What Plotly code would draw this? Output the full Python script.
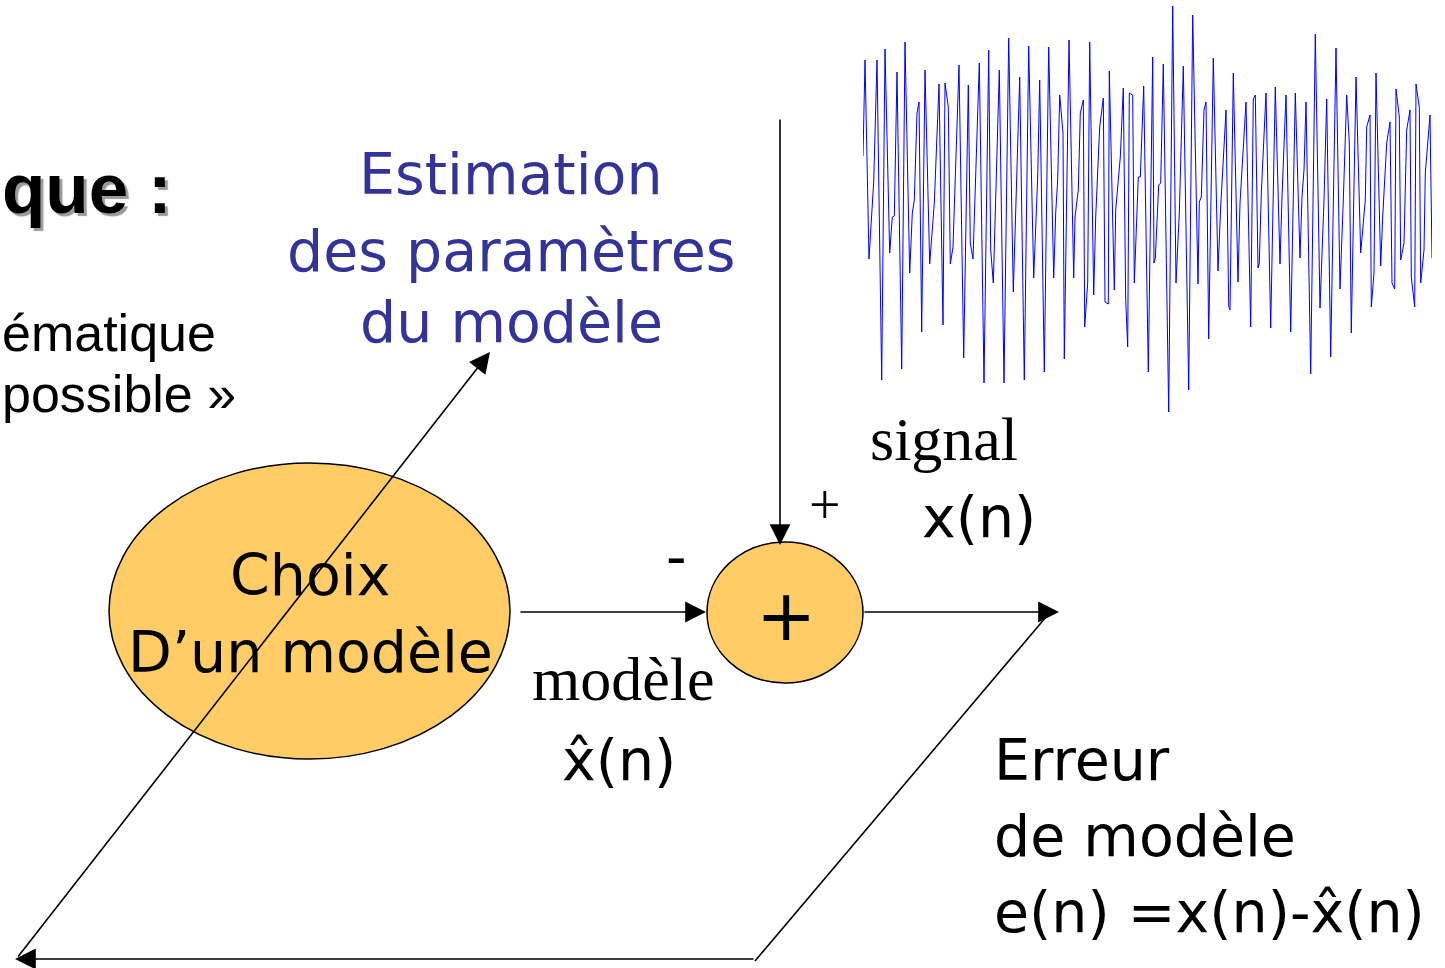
import plotly.graph_objects as go

# ---- signal samples ----
t = [0, 2, 6, 10.7, 14, 18.7, 22, 26.7, 29.3, 31.3, 34, 38.7, 42, 46.7, 49.3, 51.3, 54, 56, 58.7, 62,
     66.7, 71.3, 76, 80, 82, 85.3, 87.3, 90, 96, 100.7, 105.3, 107.3, 110, 116.3, 121, 125.7, 127.7, 130.3,
     136.3, 141, 145.7, 150.3, 156.7, 161.3, 165.7, 170.7, 174.7, 176.7, 181.3, 185.7, 190.7, 192.7, 194.7,
     196.7, 200, 201.3, 206, 210.7, 212, 215.3, 217.3, 220.3, 221.7, 224.7, 226.7, 230.7, 232.7, 236.7,
     240.3, 242, 245.3, 246.3, 251.3, 252.7, 257.3, 260.3, 262.7, 264.7, 266.3, 269.7, 271.3, 275.3, 277.3,
     280.7, 285.3, 289.7, 291, 292.3, 295.7, 297.7, 300.3, 305.7, 309.7, 313, 316.3, 320.3, 325.7, 329.7,
     335, 336.3, 338.3, 341, 343, 345.7, 350.3, 355, 357.7, 363, 365.7, 367, 370.3, 375, 377, 379.7, 383,
     387.7, 390.3, 392.3, 395, 396.3, 398.3, 403, 407.7, 412.3, 417, 419, 423, 427.7, 432.3, 437, 439, 441,
     443, 447.7, 452.3, 457, 461, 463.7, 467.7, 473, 477, 480.3, 483.7, 486.3, 488.3, 493, 497.7, 499.7,
     502.3, 503.7, 507, 508.3, 511, 513, 517.7, 519.7, 523.7, 527, 529, 531.7, 533, 536.3, 537.7, 541,
     543.7, 547, 548.3, 551.7, 553, 556.3, 557.7, 561, 562.3, 567, 569]
amplitude = [54, 150, -49, 28, 150, -170, 161, -43, -7, -6, 138, -159, 168, -63, -3, 10, 97, 108, -122, 140,
             -54, 7, 126, -115, 127, 103, -54, -37, 145, -148, 125, -33, -49, 147, -173, 160, -40, -73,
             140, -173, 172, -82, 133, -170, 164, -68, 33, 130, -162, 163, -68, -3, 30,
             115, 77, -149, 170, -68, -7, 20, 97, 110, -117, -73, 168, -85, -7, 83,
             112, -92, -94, 139, -80, 0, 53, 122, -90, -137, 117, 115, -73, 33, 33,
             124, -162, 153, -53, -48, 25, 27, 146, -202, 204, -73, -3, 144, -180, 195,
             -74, 8, 13, 100, 108, -129, 152, -61, 3, 100, -96, -100, 137, -72, 7, 57, 108,
             -117, 111, 115, -58, -53, 17, 117, -118, 123, -54, 13, 115, -122, 117, -48, 13, 40,
             108, -164, 176, -98, 10, 111, -147, 162, -79, 10, 115, 67, -123, 133, -43, -20,
             10, 83, 95, -97, -63, 137, -56, -7, 67, 88, -73, -79, 121, 93, -50, -33,
             80, 100, -67, -97, 126, 103, -73, -40, 37, 95, -48]

# ---- texts ----
title_part = "que :"
left_lines = ["ématique", "possible »"]
estim_lines = ["Estimation", "des paramètres", "du modèle"]
choix_lines = ["Choix", "D\u2019un modèle"]
xhat = "x\u0302(n)"
erreur_lines = ["Erreur", "de modèle", "e(n) =x(n)-" + xhat]

W, H = 1445, 968
COMIC = "DejaVu Sans"
BLUE_TXT = "#333399"
ORANGE = "rgb(255,204,102)"

fig = go.Figure()
fig.add_trace(go.Scatter(x=t, y=amplitude, mode="lines", line=dict(color="#0000FF", width=1),
                         xaxis="x2", yaxis="y2", hoverinfo="skip", showlegend=False))

shapes = []
annots = []

def txt(x, y, s, size, family=COMIC, color="black", xanchor="center", bold=False, shadow=None):
    font = dict(family=family, size=size, color=color)
    if shadow:
        font["shadow"] = shadow
    annots.append(dict(x=x, y=y, xref="x", yref="y", text=("<b>%s</b>" % s) if bold else s,
                       showarrow=False, xanchor=xanchor, yanchor="middle", font=font))

def arrow(x0, y0, x1, y1):
    annots.append(dict(x=x1, y=y1, ax=x0, ay=y0, xref="x", yref="y", axref="x", ayref="y",
                       text="", showarrow=True, arrowhead=2, arrowsize=2.6, arrowwidth=1.6,
                       arrowcolor="black", standoff=0, startstandoff=0))

def line(x0, y0, x1, y1):
    shapes.append(dict(type="line", xref="x", yref="y", x0=x0, y0=y0, x1=x1, y1=y1,
                       line=dict(color="black", width=1.6)))

# ellipses
shapes.append(dict(type="circle", xref="x", yref="y", x0=109, x1=510, y0=463, y1=759,
                   fillcolor=ORANGE, line=dict(color="black", width=1.5), layer="below"))
shapes.append(dict(type="circle", xref="x", yref="y", x0=707, x1=863, y0=542, y1=683,
                   fillcolor=ORANGE, line=dict(color="black", width=1.5), layer="below"))

# connectors
arrow(780, 118, 780, 545)
arrow(519, 612, 706, 612)
arrow(863, 612, 1059, 612)
line(755, 961, 1046, 617)
arrow(755, 959, 15, 959)
arrow(17, 958, 490, 352)

# left clipped title text (with shadow)
txt(0, 188, title_part, 71, family="Liberation Sans", xanchor="left", bold=True,
    shadow="3px 3px 1px #9a9a9a")
txt(0, 333, left_lines[0], 52, family="Liberation Sans", xanchor="left")
txt(0, 394, left_lines[1], 52, family="Liberation Sans", xanchor="left")

# estimation block
for yy, s in zip([174, 251, 322], estim_lines):
    txt(511, yy, s, 57, color=BLUE_TXT)

# choix block
for yy, s in zip([575, 652], choix_lines):
    txt(310, yy, s, 57)

# signal labels
txt(868, 439, "signal", 62, family="Liberation Serif", xanchor="left")
txt(920, 517, "x(n)", 57, xanchor="left")
txt(825, 505, "+", 56, family="Liberation Serif")
txt(676, 556, "-", 57)
txt(786, 615, "+", 72)

# model labels
txt(530, 679, "modèle", 62, family="Liberation Serif", xanchor="left")
txt(560, 760, xhat, 57, xanchor="left")

# erreur block
for yy, s in zip([760, 836, 912], erreur_lines):
    txt(992, yy, s, 57, xanchor="left")

fig.update_layout(
    width=W, height=H, margin=dict(l=0, r=0, t=0, b=0),
    paper_bgcolor="white", plot_bgcolor="white",
    xaxis=dict(range=[0, W], visible=False, domain=[0, 1], fixedrange=True),
    yaxis=dict(range=[H, 0], visible=False, domain=[0, 1], fixedrange=True),
    xaxis2=dict(range=[0, 569], visible=False, domain=[863 / W, 1432 / W], anchor="y2"),
    yaxis2=dict(range=[-210, 210], visible=False, domain=[1 - 420 / H, 1.0], anchor="x2"),
    shapes=shapes, annotations=annots, showlegend=False,
)

fig.write_html("out.html", config={"displayModeBar": False},
               post_script="document.body.style.margin='0';document.body.style.overflow='hidden';")
